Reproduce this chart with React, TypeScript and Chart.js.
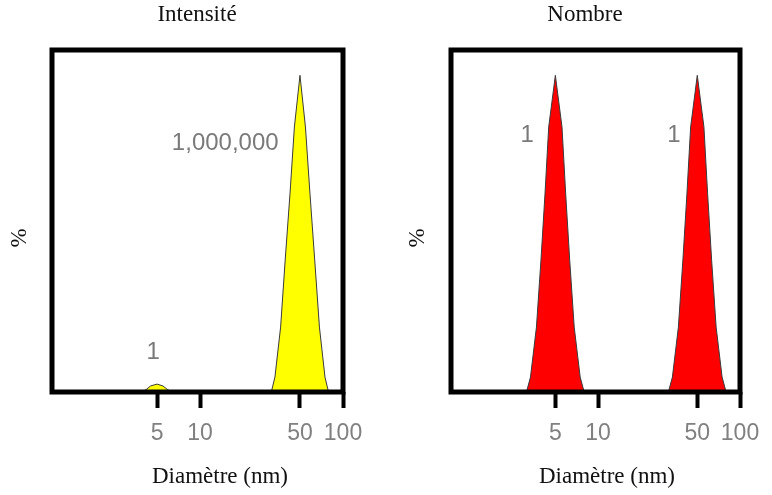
import React, { useEffect, useRef } from 'react';
import { Chart, registerables } from 'chart.js';

Chart.register(...registerables);

// ---- Data ----
const xTicks = [5, 10, 50, 100];

// Intensité panel: small bump at 5 nm, large peak at 50 nm
const intensiteDiam = [3.9, 4.2, 4.5, 5.0, 5.5, 5.9, 6.4, 31.5, 33.4, 36.6, 39.4, 42.6, 45.7, 50, 54.6, 58.7, 63.4, 68.4, 74.8, 79.2];
const intensiteVal = [0, 0.8, 1.9, 2.5, 1.9, 0.8, 0, 0, 4.7, 20.5, 41.7, 62.8, 83.7, 100, 83.7, 62.8, 41.7, 20.5, 4.7, 0];

// Nombre panel: two equal peaks at 5 nm and 50 nm
const nombreDiam = [3.13, 3.34, 3.68, 3.96, 4.23, 4.49, 5.0, 5.57, 5.91, 6.31, 6.79, 7.48, 7.98, 31.3, 33.4, 36.8, 39.6, 42.3, 44.9, 50, 55.7, 59.1, 63.1, 67.9, 74.8, 79.8];
const nombreVal = [0, 4.7, 20.5, 41.7, 62.8, 83.7, 100, 83.7, 62.8, 41.7, 20.5, 4.7, 0, 0, 4.7, 20.5, 41.7, 62.8, 83.7, 100, 83.7, 62.8, 41.7, 20.5, 4.7, 0];

const intensiteNoteText = ['1,000,000', '1'];
const intensiteNoteX = [15, 4.69];
const intensiteNoteY = [78.6, 12.6];

const nombreNoteText = ['1', '1'];
const nombreNoteX = [3.16, 34.3];
const nombreNoteY = [80.9, 80.9];

const X_MIN = 0.92;
const X_MAX = 100;
const Y_MAX = 108;

const SERIF = '"Liberation Serif", "Times New Roman", serif';
const SANS = '"Liberation Sans", Arial, sans-serif';

type PanelProps = {
  title: string;
  diam: number[];
  vals: number[];
  color: string;
  noteText: string[];
  noteX: number[];
  noteY: number[];
  left: number;
  padL: number;
  padR: number;
  titleX: number;
  xTitleX: number;
  yTitleX: number;
};

function Panel(p: PanelProps) {
  const ref = useRef<HTMLCanvasElement | null>(null);

  useEffect(() => {
    if (!ref.current) return;
    const decor = {
      id: 'decor',
      afterDatasetsDraw(chart: any) {
        const { ctx, chartArea: a } = chart;
        ctx.save();
        ctx.strokeStyle = '#000';
        ctx.lineWidth = 5;
        ctx.strokeRect(a.left, a.top, a.right - a.left, a.bottom - a.top);
        ctx.restore();
      },
      afterDraw(chart: any) {
        const { ctx } = chart;
        const xs = chart.scales.x;
        const ys = chart.scales.y;
        ctx.save();
        ctx.fillStyle = '#111';
        ctx.font = `23px ${SERIF}`;
        ctx.textAlign = 'center';
        ctx.textBaseline = 'middle';
        ctx.fillText(p.title, p.titleX, 15);
        ctx.fillText('Diamètre (nm)', p.xTitleX, 477);
        ctx.save();
        ctx.translate(p.yTitleX, 238);
        ctx.rotate(-Math.PI / 2);
        ctx.fillText('%', 0, 0);
        ctx.restore();
        ctx.fillStyle = '#7a7a7a';
        ctx.font = `24px ${SANS}`;
        p.noteText.forEach((t, i) => {
          ctx.fillText(t, xs.getPixelForValue(p.noteX[i]), ys.getPixelForValue(p.noteY[i]));
        });
        ctx.restore();
      },
    };

    const chart = new Chart(ref.current, {
      type: 'line',
      data: {
        datasets: [
          {
            data: p.diam.map((d, i) => ({ x: d, y: p.vals[i] })),
            fill: 'origin',
            backgroundColor: p.color,
            borderColor: '#3a3a3a',
            borderWidth: 1,
            pointRadius: 0,
            tension: 0,
          },
        ],
      },
      options: {
        responsive: false,
        animation: false,
        events: [],
        layout: { padding: { left: p.padL, right: p.padR, top: 50, bottom: 0 } },
        plugins: {
          legend: { display: false },
          tooltip: { enabled: false },
          title: { display: false },
        },
        scales: {
          x: {
            type: 'logarithmic',
            min: X_MIN,
            max: X_MAX,
            afterBuildTicks: (s: any) => {
              s.ticks = xTicks.map((v) => ({ value: v }));
            },
            afterFit: (s: any) => {
              s.height = 103;
            },
            border: { display: false },
            grid: {
              drawOnChartArea: false,
              drawTicks: true,
              tickLength: 16,
              tickWidth: 4,
              tickColor: '#000',
            },
            ticks: {
              autoSkip: false,
              maxRotation: 0,
              padding: 12,
              color: '#808080',
              font: { family: SANS, size: 23 },
              callback: (v: any) => String(v),
            },
          },
          y: { display: false, min: 0, max: Y_MAX },
        },
      } as any,
      plugins: [decor],
    });
    return () => chart.destroy();
  }, []);

  return (
    <canvas
      ref={ref}
      width={386}
      height={495}
      style={{ position: 'absolute', left: p.left, top: 0, width: 386, height: 495 }}
    />
  );
}

export default function App() {
  return (
    <div style={{ position: 'fixed', left: 0, top: 0, width: 772, height: 495, background: '#fff' }}>
      <Panel
        title="Intensité"
        diam={intensiteDiam}
        vals={intensiteVal}
        color="#ffff00"
        noteText={intensiteNoteText}
        noteX={intensiteNoteX}
        noteY={intensiteNoteY}
        left={0}
        padL={52}
        padR={43}
        titleX={197}
        xTitleX={220}
        yTitleX={20}
      />
      <Panel
        title="Nombre"
        diam={nombreDiam}
        vals={nombreVal}
        color="#ff0000"
        noteText={nombreNoteText}
        noteX={nombreNoteX}
        noteY={nombreNoteY}
        left={386}
        padL={65}
        padR={32}
        titleX={199}
        xTitleX={221}
        yTitleX={32}
      />
    </div>
  );
}
